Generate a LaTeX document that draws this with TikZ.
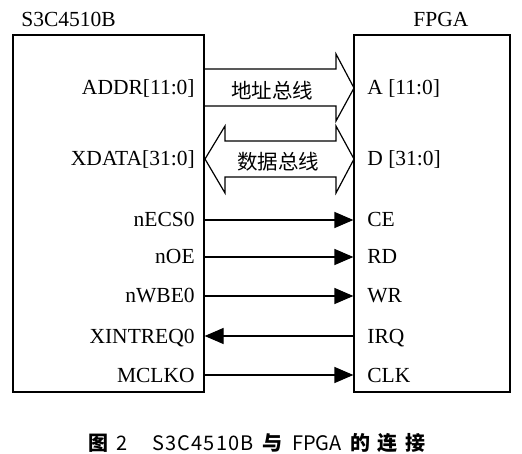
\documentclass[tikz,border=0pt]{standalone}
\usepackage{fontspec}
\setmainfont{Liberation Serif}
\newfontfamily\cjk{Noto Sans CJK SC}
\usetikzlibrary{arrows.meta}

\tikzset{every picture/.style={line width=1.2pt}}
\tikzset{
  pin/.style={inner sep=0.75pt, text height=14pt, text depth=0pt, font=\fontsize{21.5}{24}\selectfont},
  buslabel/.style={inner sep=0.75pt, font=\cjk\fontsize{20.5}{24}\selectfont},
  chip/.style={draw, inner sep=0pt, minimum height=357pt},
  sig/.style={-{Triangle[length=19pt,width=16pt]}},
  bus/.style={line join=miter}
}

\begin{document}
\begin{tikzpicture}[x=1pt,y=1pt,yscale=-1,xscale=1]
\useasboundingbox (0,0) rectangle (522,454);

%Shape: Rectangle
\draw (108.5,213.5) node [chip, minimum width=191pt] (cpu) {};
%Shape: Rectangle
\draw (432,213.5) node [chip, minimum width=156pt] (fpga) {};

% Text Node
\draw (20,20) node [anchor=west][pin] (cputitle) {S3C4510B};
% Text Node
\draw (412,20) node [anchor=west][pin] (fpgatitle) {FPGA};

%Shape: Address bus
\draw [bus] (204,69) -- (336,69) -- (336,54) -- (354,88) -- (336,121) -- (336,106) -- (204,106);
%Shape: Data bus
\draw [bus] (225,141) -- (336,141) -- (336,126) -- (354,159) -- (336,193) -- (336,177) -- (225,177) -- (225,193) -- (205,159) -- (225,126) -- cycle;

% Text Node
\draw (272,91) node [buslabel] (addrbus) {地址总线};
% Text Node
\draw (278,162) node [buslabel] (databus) {数据总线};

% Text Node
\draw (196,88) node [anchor=east][pin] (ADDR) {ADDR[11:0]};
% Text Node
\draw (196,159) node [anchor=east][pin] (XDATA) {XDATA[31:0]};
% Text Node
\draw (196,220) node [anchor=east][pin] (nECS) {nECS0};
% Text Node
\draw (196,257) node [anchor=east][pin] (nOE) {nOE};
% Text Node
\draw (196,296) node [anchor=east][pin] (nWBE) {nWBE0};
% Text Node
\draw (196,336) node [anchor=east][pin] (XINT) {XINTREQ0};
% Text Node
\draw (196,375) node [anchor=east][pin] (MCLK) {MCLKO};

% Text Node
\draw (366,88) node [anchor=west][pin] (A) {A [11:0]};
% Text Node
\draw (366,159) node [anchor=west][pin] (D) {D [31:0]};
% Text Node
\draw (366,220) node [anchor=west][pin] (CE) {CE};
% Text Node
\draw (366,257) node [anchor=west][pin] (RD) {RD};
% Text Node
\draw (366,296) node [anchor=west][pin] (WR) {WR};
% Text Node
\draw (366,336) node [anchor=west][pin] (IRQ) {IRQ};
% Text Node
\draw (366,375) node [anchor=west][pin] (CLK) {CLK};

\draw [sig] (cpu.east |- nECS) -- (fpga.west |- CE);
\draw [sig] (cpu.east |- nOE) -- (fpga.west |- RD);
\draw [sig] (cpu.east |- nWBE) -- (fpga.west |- WR);
\draw [sig] (fpga.west |- IRQ) -- (cpu.east |- XINT);
\draw [sig] (cpu.east |- MCLK) -- (fpga.west |- CLK);

% Text Node
\draw (87.5,450) node [anchor=base west][inner sep=0pt, font=\cjk\fontsize{20}{22}\selectfont] (caption) {\textbf{图}\hspace{8pt}2\hspace{25pt}{\addfontfeature{LetterSpace=6}S3C4510B}\hspace{7pt}\textbf{与}\hspace{10pt}FPGA\hspace{9pt}\textbf{的}\hspace{7pt}\textbf{连}\hspace{8pt}\textbf{接}};

\end{tikzpicture}
\end{document}
